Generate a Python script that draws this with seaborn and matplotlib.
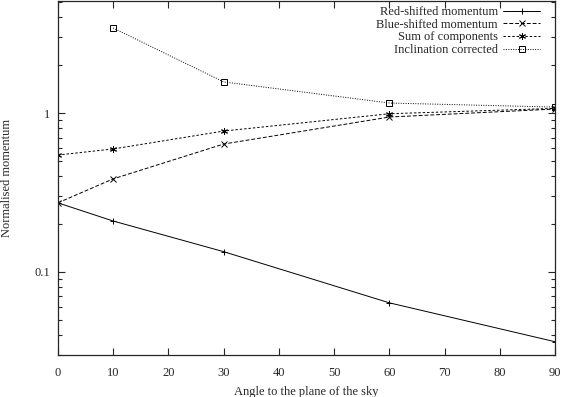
import numpy as np
import pandas as pd
import seaborn as sns
import matplotlib.pyplot as plt
from matplotlib.ticker import FixedLocator, FuncFormatter, LogLocator, NullFormatter

# values
angles = [0, 10, 30, 60, 90]
red_shifted = [0.272, 0.209, 0.134, 0.0638, 0.0363]
blue_shifted = [0.272, 0.385, 0.638, 0.944, 1.06]
sum_components = [0.544, 0.594, 0.77, 0.99, 1.07]
incl_corrected = [np.nan, 3.43, 1.57, 1.156, 1.09]

names = ["Red-shifted momentum", "Blue-shifted momentum", "Sum of components", "Inclination corrected"]
series = [red_shifted, blue_shifted, sum_components, incl_corrected]

sns.set_style("ticks")
plt.rcParams["font.family"] = ["Liberation Serif", "DejaVu Serif"]
plt.rcParams["font.size"] = 9

fig = plt.figure(figsize=(5.62, 3.97), dpi=100)
ax = fig.add_axes([0.103, 0.106, 0.885, 0.891])

dashes = [(None, None), (4, 2), (2.5, 2), (1, 1.5)]
markers = ["+", "x", (6, 2, 0), "s"]

for name, vals, dash, mk in zip(names, series, dashes, markers):
    d = pd.DataFrame({"angle": angles, "value": vals}).dropna()
    line_kw = {} if dash[0] is None else {"dashes": dash}
    sns.lineplot(data=d, x="angle", y="value", color="black", linewidth=0.7,
                 marker=mk, markersize=5, markeredgewidth=0.7,
                 markerfacecolor="none", markeredgecolor="black",
                 label=name, ax=ax, **line_kw)

ax.set_yscale("log")
ax.set_xlim(0, 90)
ax.set_ylim(0.03, 5.06)
ax.xaxis.set_major_locator(FixedLocator(range(0, 91, 10)))
ax.yaxis.set_major_locator(FixedLocator([0.1, 1]))
ax.yaxis.set_major_formatter(FuncFormatter(lambda v, p: "%g" % v))
ax.yaxis.set_minor_locator(LogLocator(base=10, subs=np.arange(2, 10)))
ax.yaxis.set_minor_formatter(NullFormatter())
ax.tick_params(which="both", direction="in", top=True, right=True, width=0.8)
ax.tick_params(which="major", length=5)
ax.tick_params(which="minor", length=3)
ax.tick_params(axis="x", pad=8.5)
ax.tick_params(axis="y", pad=5.5)
for s in ax.spines.values():
    s.set_visible(True)
    s.set_linewidth(0.9)

ax.set_xlabel("Angle to the plane of the sky")
ax.set_ylabel("Normalised momentum")
ax.xaxis.set_label_coords(0.5, -0.087)
ax.yaxis.set_label_coords(-0.091, 0.5)

ax.legend(loc="upper right", bbox_to_anchor=(0.97, 0.986), frameon=False,
          markerfirst=False, handlelength=3.0, handletextpad=0.4,
          labelspacing=0.05, borderaxespad=0, borderpad=0, fontsize=9)

fig.savefig("out.png", dpi=100)
